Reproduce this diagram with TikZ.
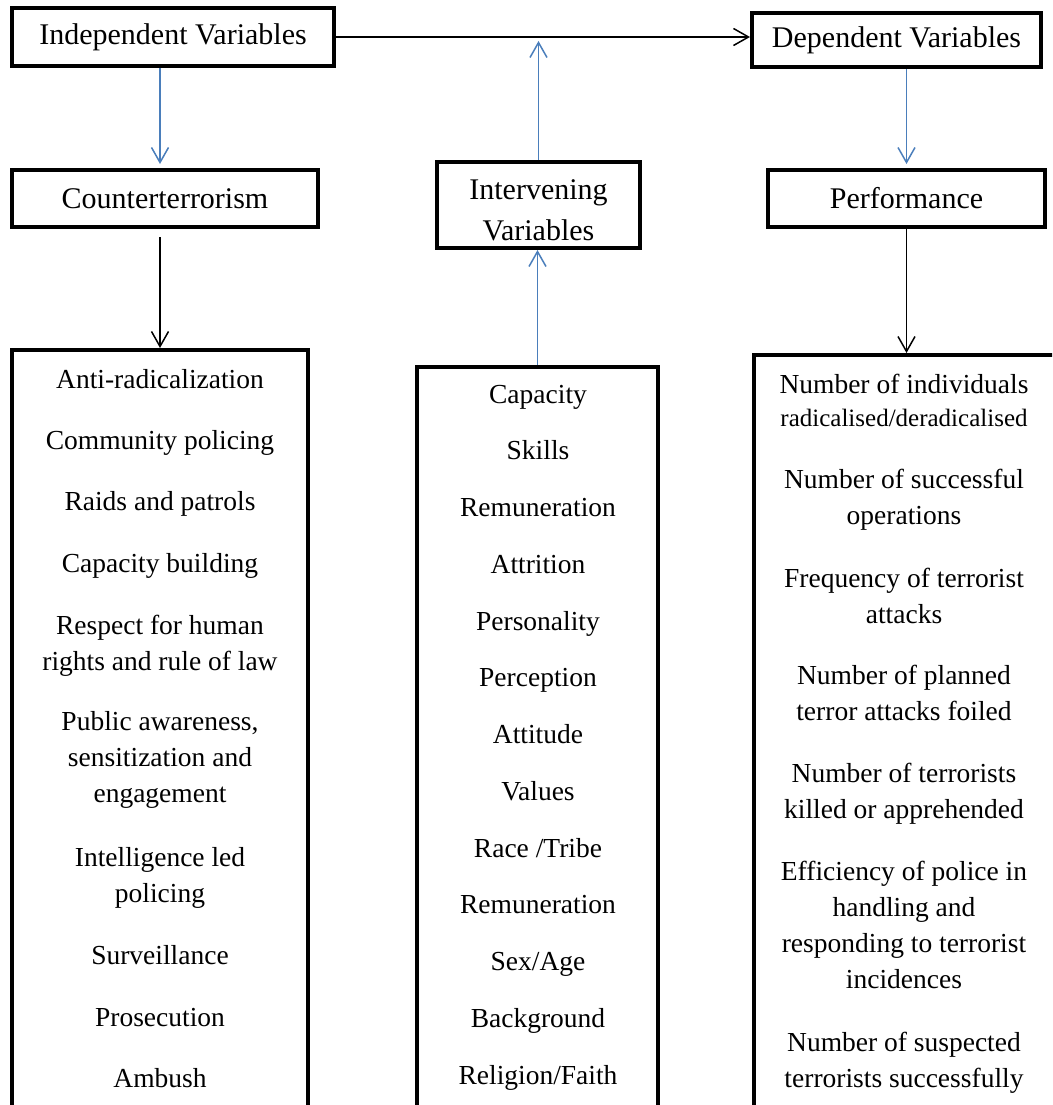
\documentclass[tikz,border=0pt]{standalone}
\usepackage{fontspec}
\setmainfont{Liberation Serif}
\usetikzlibrary{arrows.meta}
\definecolor{linkblue}{HTML}{4A7EBB}
\tikzset{
  varbox/.style={draw, line width=4pt, inner sep=0pt, align=center,
    font=\fontsize{30}{36}\selectfont},
  listbox/.style={draw, line width=4pt, anchor=north west, inner sep=0pt},
  entry/.style={anchor=north, inner sep=0pt, align=center,
    font=\fontsize{27.5}{36}\selectfont},
  blackarrow/.style={line width=1.5pt, -{Straight Barb[length=15pt, width=17pt]}},
  bluearrow/.style={blackarrow, draw=linkblue}
}

\begin{document}
\begin{tikzpicture}[x=1pt, y=-1pt]
  \useasboundingbox (0,0) rectangle (1052,1105);
  \clip (0,0) rectangle (1052,1105);
  % variables
  \node[varbox, minimum width=322pt, minimum height=58pt] (indep) at (173,37) {Independent Variables};
  \node[varbox, minimum width=289pt, minimum height=54pt] (dep) at (896.5,40) {Dependent Variables};
  \node[varbox, minimum width=306pt, minimum height=57pt] (ct) at (165,198.5) {Counterterrorism};
  \node[varbox, minimum width=203pt, minimum height=86pt] (iv) at (538.5,205)
    {\rule{0pt}{30pt}Intervening\\[5pt]Variables};
  \node[varbox, minimum width=277pt, minimum height=57pt] (pf) at (906.5,198.5) {Performance};
  % list boxes
  \node[listbox, minimum width=296pt, minimum height=800pt] (ctbox) at (10,348) {};
  \node[listbox, minimum width=241pt, minimum height=800pt] (ivbox) at (415,365) {};
  \node[listbox, minimum width=400pt, minimum height=800pt] (pfbox) at (752,353) {};
  % counterterrorism
  \foreach \txt/\y [count=\i] in {Anti-radicalization/378, Community policing/439,
      Raids and patrols/500, Capacity building/562,
      {Respect for human\\rights and rule of law}/624,
      {Public awareness,\\sensitization and\\engagement}/720,
      {Intelligence led\\policing}/856, Surveillance/954, Prosecution/1016, Ambush/1077}
    \node[entry] (ct\i) at (160,\y-15) {\strut\txt};
  % intervening
  \foreach \txt/\y [count=\i] in {Capacity/393, Skills/449, Remuneration/506, Attrition/563,
      Personality/620, Perception/676, Attitude/733, Values/790, {Race /Tribe}/847,
      Remuneration/903, {Sex/Age}/960, Background/1017, {Religion/Faith}/1074}
    \node[entry] (iv\i) at (538,\y-15) {\strut\txt};
  % performance
  \foreach \txt/\y [count=\i] in {{Number of individuals\\[-3pt]{\fontsize{25}{30}\selectfont radicalised/deradicalised}}/383,
      {Number of successful\\operations}/478,
      {Frequency of terrorist\\attacks}/577,
      {Number of planned\\terror attacks foiled}/674,
      {Number of terrorists\\killed or apprehended}/772,
      {Efficiency of police in\\handling and\\responding to terrorist\\incidences}/870,
      {Number of suspected\\terrorists successfully}/1041}
    \node[entry] (pf\i) at (904,\y-15) {\strut\txt};
  % connectors
  \draw[blackarrow] (indep.east) -- (dep.west |- indep.east);
  \draw[bluearrow, shorten >=4pt] (ctbox.north |- indep.south) -- (ctbox.north |- ct.north);
  \draw[bluearrow, shorten >=4pt] (pf.north |- dep.south) -- (pf.north);
  \draw[bluearrow, shorten >=4pt] (iv.north) -- (iv.north |- indep.east);
  \draw[bluearrow] (ivbox.north) -- (ivbox.north |- iv.south);
  \draw[blackarrow, shorten <=8pt] (ctbox.north |- ct.south) -- (ctbox.north);
  \draw[blackarrow] (pf.south) -- (pf.south |- pfbox.north);
\end{tikzpicture}
\end{document}
